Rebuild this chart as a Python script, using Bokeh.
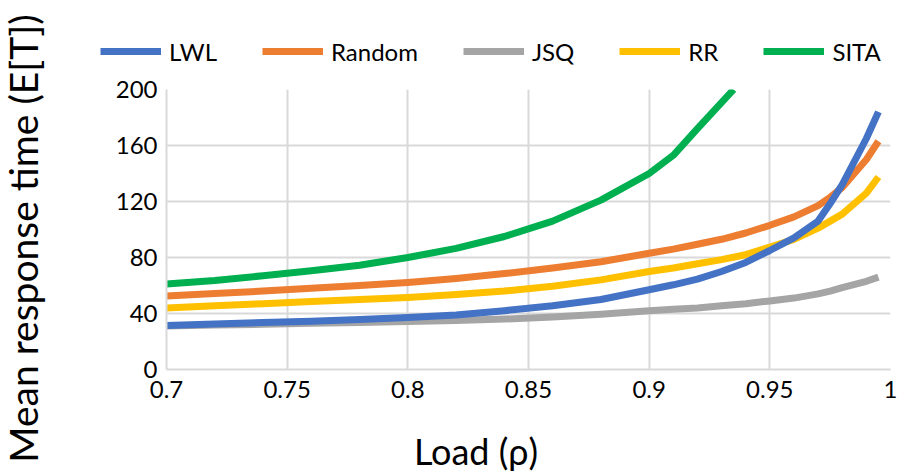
import math
from bokeh.plotting import figure
from bokeh.layouts import row, column
from bokeh.models import FixedTicker, Legend, LegendItem, Label, Range1d
from bokeh.embed import file_html
from bokeh.resources import INLINE

loads = [0.70, 0.72, 0.74, 0.76, 0.78, 0.80, 0.82, 0.84, 0.86, 0.88, 0.90,
         0.91, 0.92, 0.93, 0.94, 0.95, 0.96, 0.97, 0.975, 0.98, 0.99, 0.995]
lwl = [31.5, 32.5, 33.5, 34.5, 35.8, 37.2, 39, 42, 45.5, 50, 57,
       60.5, 64.5, 70, 76.5, 85, 94, 106, 118.5, 132, 165, 184]
random_ = [52.5, 54.2, 56, 58, 60, 62.2, 65, 68.5, 72.5, 77, 83,
           86, 89.5, 93, 97.5, 103, 109, 117, 123, 130, 150, 163]
jsq = [31, 31.7, 32.3, 33, 33.6, 34.2, 35, 36, 37.5, 39.5, 42,
       43, 44, 45.5, 47, 49, 51, 54, 56, 58.5, 63, 66]
rr = [44, 45.5, 47, 48.5, 50, 51.5, 53.5, 56, 59.5, 64, 70,
      72.5, 75.5, 78.5, 82, 87.5, 93, 101, 106, 111, 126, 137.5]
sita_loads = [0.70, 0.72, 0.74, 0.76, 0.78, 0.80, 0.82, 0.84, 0.86, 0.88, 0.90, 0.91, 0.92, 0.935]
sita = [61, 63.5, 67, 70.5, 74.5, 80, 86.5, 95, 106, 121, 140, 153, 172, 200]

series_names = ["LWL", "Random", "JSQ", "RR", "SITA"]
series_colors = ["#4472C4", "#ED7D31", "#A5A5A5", "#FFC000", "#00B050"]

x_ticks = [0.7, 0.75, 0.8, 0.85, 0.9, 0.95, 1.0]
x_tick_labels = ["0.7", "0.75", "0.8", "0.85", "0.9", "0.95", "1"]
y_ticks = [0, 40, 80, 120, 160, 200]

FONT = "Lato"
LW = 7


def no_align(f):
    try:
        f.frame_align = False
    except Exception:
        pass


def blank(width, height, xr=(0, 1), yr=(0, 1)):
    f = figure(width=width, height=height, output_backend="svg", toolbar_location=None,
               x_axis_type=None, y_axis_type=None, x_range=Range1d(*xr), y_range=Range1d(*yr),
               min_border=0)
    f.outline_line_color = None
    f.background_fill_color = "white"
    f.border_fill_color = "white"
    f.grid.visible = False
    no_align(f)
    return f


# main plot
p = figure(width=838, height=334, output_backend="svg", toolbar_location=None,
           x_range=Range1d(0.7, 1.0), y_range=Range1d(0, 200),
           min_border_left=106, min_border_right=8, min_border_top=17, min_border_bottom=37)
p.outline_line_color = None
p.background_fill_color = "white"
p.border_fill_color = "white"
no_align(p)

for ax in (p.xaxis[0], p.yaxis[0]):
    ax.axis_line_color = "#d9d9d9"
    ax.axis_line_width = 2
    ax.major_tick_line_color = None
    ax.minor_tick_line_color = None
    ax.major_label_text_font = FONT
    ax.major_label_text_font_size = "24px"
    ax.major_label_text_color = "#000000"
p.xaxis.major_label_standoff = 5
p.yaxis.major_label_standoff = 3

p.xaxis.ticker = FixedTicker(ticks=x_ticks)
p.xaxis.major_label_overrides = {t: l for t, l in zip(x_ticks, x_tick_labels)}
p.yaxis.ticker = FixedTicker(ticks=y_ticks)
p.xgrid.ticker = FixedTicker(ticks=x_ticks)
p.ygrid.ticker = FixedTicker(ticks=y_ticks)
p.grid.grid_line_color = "#d9d9d9"
p.grid.grid_line_width = 2

all_x = [loads, loads, loads, loads, sita_loads]
all_y = [lwl, random_, jsq, rr, sita]
# drawing order: JSQ, Random, RR, SITA, then LWL on top
for i in (2, 1, 3, 4, 0):
    p.line(all_x[i], all_y[i], line_color=series_colors[i], line_width=LW, line_join="round")

# legend strip (its lines lie outside its visible ranges; only the legend keys show)
lg = blank(838, 72, xr=(10, 11), yr=(1000, 1001))
items = []
for name, xs, ys, c in zip(series_names, all_x, all_y, series_colors):
    r = lg.line(xs, ys, line_color=c, line_width=LW)
    items.append(LegendItem(label=name, renderers=[r]))
legend = Legend(items=items, orientation="horizontal", location=(40, 6))
legend.label_text_font = FONT
legend.label_text_font_size = "24px"
legend.label_text_color = "#000000"
legend.glyph_width = 61
legend.glyph_height = 30
legend.label_height = 30
legend.label_standoff = 8
legend.spacing = 45
legend.padding = 0
legend.margin = 0
legend.border_line_color = None
legend.background_fill_alpha = 0
lg.add_layout(legend, "center")

# x-axis title strip
bt = blank(838, 70)
bt.add_layout(Label(x=415, y=26, x_units="screen", y_units="screen", text="Load (ρ)",
                    text_font=FONT, text_font_size="36px", text_color="#000000",
                    text_align="center", text_baseline="alphabetic"))

# y-axis title strip
lt = blank(60, 476)
lt.add_layout(Label(x=22, y=238, x_units="screen", y_units="screen",
                    text="Mean response time (E[T])", angle=math.pi / 2,
                    text_font=FONT, text_font_size="39px", text_color="#000000",
                    text_align="center", text_baseline="middle"))

layout = row(lt, column(row(lg), p, row(bt), spacing=0), spacing=0)
open("out.html", "w").write(file_html(layout, INLINE))
